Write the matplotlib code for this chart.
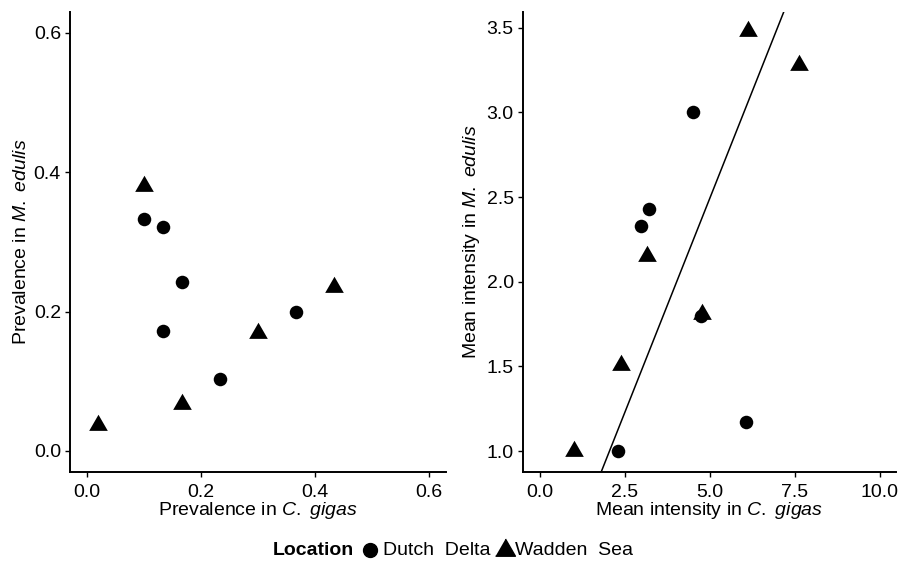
import numpy as np
import matplotlib.pyplot as plt
from matplotlib.lines import Line2D

plt.rcParams['font.family'] = ['Liberation Sans', 'DejaVu Sans']
plt.rcParams['mathtext.fontset'] = 'custom'
plt.rcParams['mathtext.rm'] = 'Liberation Sans'
plt.rcParams['mathtext.it'] = 'Liberation Sans:italic'

# Prevalencia (izquierda)
prev_dd_cg = [0.100, 0.133, 0.167, 0.133, 0.233, 0.367]
prev_dd_me = [0.333, 0.321, 0.242, 0.172, 0.103, 0.200]
prev_ws_cg = [0.100, 0.433, 0.300, 0.167, 0.019]
prev_ws_me = [0.381, 0.235, 0.169, 0.068, 0.037]

# Intensidad media (derecha)
int_dd_cg = [4.50, 3.21, 2.99, 4.73, 6.08, 2.29]
int_dd_me = [3.00, 2.43, 2.33, 1.80, 1.17, 1.00]
int_ws_cg = [6.13, 7.62, 3.16, 4.77, 2.40, 1.00]
int_ws_me = [3.48, 3.28, 2.15, 1.81, 1.51, 1.00]

# Recta de ajuste
fit_intercept = -0.038
fit_slope = 0.506

tri = [(-1, -0.577), (1, -0.577), (0, 1.155)]
fs_tick = 14
fs_lab = 14

fig = plt.figure(figsize=(9.09, 5.74), dpi=100)
ax1 = fig.add_axes([0.077, 0.178, 0.4133, 0.801])
ax2 = fig.add_axes([0.575, 0.178, 0.4104, 0.801])

ax1.scatter(prev_dd_cg, prev_dd_me, s=95, marker='o', color='black', linewidths=0)
ax1.scatter(prev_ws_cg, prev_ws_me, s=240, marker=tri, color='black', linewidths=0)
ax1.set_xlim(-0.03, 0.63)
ax1.set_ylim(-0.03, 0.63)
ax1.set_xticks([0.0, 0.2, 0.4, 0.6])
ax1.set_yticks([0.0, 0.2, 0.4, 0.6])
ax1.set_xlabel('Prevalence in $\\it{C.}$ $\\it{gigas}$', fontsize=fs_lab, labelpad=-1)
ax1.set_ylabel('Prevalence in $\\it{M.}$ $\\it{edulis}$', fontsize=fs_lab, labelpad=3)

ax2.scatter(int_dd_cg, int_dd_me, s=95, marker='o', color='black', linewidths=0)
ax2.scatter(int_ws_cg, int_ws_me, s=240, marker=tri, color='black', linewidths=0)
ax2.axline((0, fit_intercept), slope=fit_slope, color='black', linewidth=1.1)
ax2.set_xlim(-0.5, 10.47)
ax2.set_ylim(0.878, 3.593)
ax2.set_xticks([0.0, 2.5, 5.0, 7.5, 10.0])
ax2.set_yticks([1.0, 1.5, 2.0, 2.5, 3.0, 3.5])
ax2.set_xticklabels(['0.0', '2.5', '5.0', '7.5', '10.0'])
ax2.set_xlabel('Mean intensity in $\\it{C.}$ $\\it{gigas}$', fontsize=fs_lab, labelpad=-1)
ax2.set_ylabel('Mean intensity in $\\it{M.}$ $\\it{edulis}$', fontsize=fs_lab, labelpad=3)

for ax in (ax1, ax2):
    for s in ('top', 'right'):
        ax.spines[s].set_visible(False)
    for s in ('left', 'bottom'):
        ax.spines[s].set_linewidth(1.4)
    ax.tick_params(labelsize=fs_tick, length=3.5, width=1, colors='black', pad=3)
    ax.tick_params(axis='x', pad=5.5)

# Leyenda (colocada a mano)
ly = 0.041
fig.text(0.3003, ly, 'Location', fontsize=14, fontweight='bold', va='center')
fig.add_artist(Line2D([0.407], [ly], transform=fig.transFigure, marker='o',
                      color='black', linestyle='none', markersize=10))
fig.text(0.4213, ly, 'Dutch  Delta', fontsize=14, va='center')
fig.add_artist(Line2D([0.5556], [ly], transform=fig.transFigure, marker=tri,
                      color='black', linestyle='none', markersize=16.5))
fig.text(0.5666, ly, 'Wadden  Sea', fontsize=14, va='center')

fig.savefig('out.png', dpi=100)
